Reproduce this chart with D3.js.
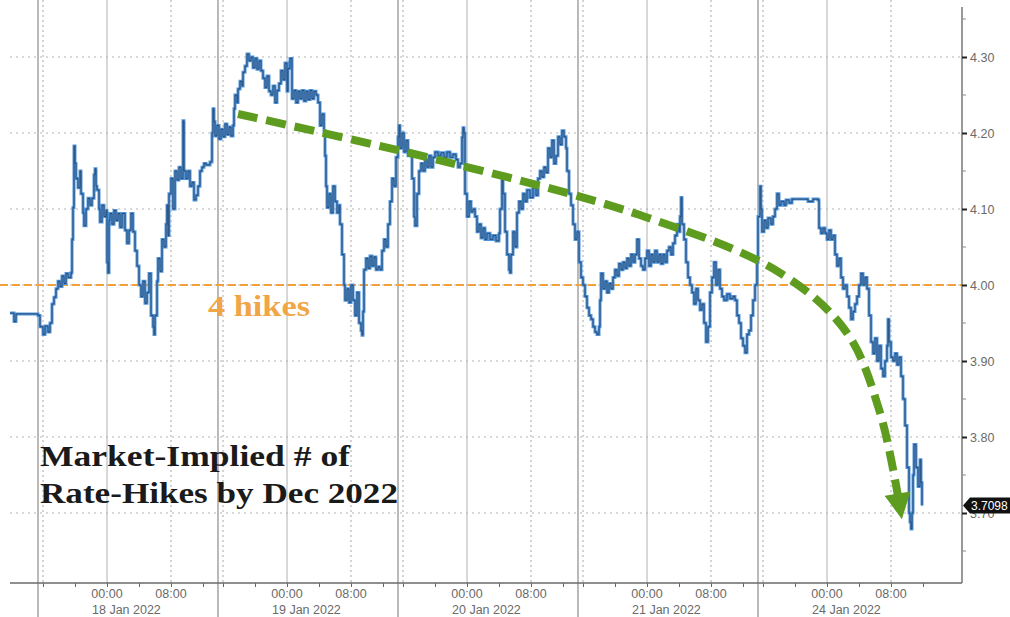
<!DOCTYPE html>
<html>
<head>
<meta charset="utf-8">
<script src="https://cdn.jsdelivr.net/npm/d3@7"></script>
<style>
  body { margin: 0; background: #fff; }
  svg { display: block; }
  .tick-lbl { font-family: "Liberation Sans", Arial, sans-serif; font-size: 12.5px; fill: #6a6a6a; }
  .title { font-family: "Liberation Serif", "Times New Roman", serif; font-weight: bold; font-size: 30px; fill: #1a1a1a; }
  .hikes { font-family: "Liberation Serif", "Times New Roman", serif; font-weight: bold; font-size: 30px; fill: #f0a646; }
</style>
</head>
<body>
<div id="container"></div>
<script>

// session layout: each day runs 22.5 trading hours, opening 8h37m before midnight
const days = ["18 Jan 2022", "19 Jan 2022", "20 Jan 2022", "21 Jan 2022", "24 Jan 2022"];
const first_open = 4.75,        // hours after the left edge of the chart
      day_len = 22.5,
      open_to_midnight = 8.625;

const y_ticks = [3.70, 3.80, 3.90, 4.00, 4.10, 4.20, 4.30];
const last_value = 3.7098;
const hikes_level = 4.00;

// [trading hours since left edge, implied number of hikes]
const series = [
 [1.25,3.963],[1.75,3.952],[2,3.962],[4.75,3.960],[5,3.945],[5.375,3.935],[5.625,3.946],[6,3.938],
 [6.25,3.950],[6.5,3.975],[6.75,3.984],[7,3.995],[7.25,4.005],[7.5,3.998],[7.75,4.012],[8,4.002],
 [8.25,4.015],[8.5,4.010],[8.875,4.016],[9,4.060],[9.125,4.102],[9.25,4.183],[9.375,4.160],[9.5,4.140],
 [9.75,4.128],[10,4.150],[10.125,4.120],[10.375,4.095],[10.5,4.078],[10.75,4.100],[11,4.114],[11.25,4.105],
 [11.5,4.114],[11.75,4.145],[11.875,4.153],[12,4.130],[12.125,4.125],[12.375,4.100],[12.5,4.083],[12.75,4.105],
 [13,4.090],[13.25,4.098],[13.375,4.030],[13.5,4.016],[13.625,4.085],[13.75,4.094],[14,4.080],[14.25,4.098],
 [14.5,4.085],[14.75,4.094],[15,4.076],[15.25,4.094],[15.625,4.072],[15.875,4.055],[16.125,4.072],[16.375,4.094],
 [16.625,4.070],[16.875,4.045],[17.125,4.025],[17.375,4.000],[17.625,3.985],[17.875,4.005],[18.125,3.976],[18.375,3.990],
 [18.625,4.015],[18.875,3.960],[19.125,3.945],[19.25,3.935],[19.375,3.960],[19.625,4.005],[19.75,4.035],[20,4.018],
 [20.25,4.060],[20.5,4.050],[20.75,4.080],[20.875,4.105],[21,4.065],[21.125,4.120],[21.375,4.140],[21.625,4.100],
 [21.875,4.150],[22.125,4.138],[22.375,4.155],[22.625,4.140],[22.875,4.216],[23,4.150],[23.25,4.140],[23.5,4.150],
 [23.75,4.130],[24,4.135],[24.25,4.112],[24.5,4.118],[24.75,4.130],[25,4.150],[25.25,4.155],[25.5,4.160],
 [25.75,4.158],[26.25,4.162],[26.5,4.200],[26.625,4.232],[26.75,4.215],[26.875,4.196],[27.125,4.210],[27.375,4.192],
 [27.625,4.205],[27.875,4.195],[28.125,4.212],[28.375,4.198],[28.625,4.208],[28.875,4.196],[29.125,4.210],[29.25,4.232],
 [29.375,4.250],[29.625,4.240],[29.75,4.258],[30,4.268],[30.25,4.262],[30.375,4.280],[30.625,4.288],[30.875,4.304],
 [31.125,4.295],[31.375,4.300],[31.625,4.286],[31.875,4.298],[32.125,4.284],[32.375,4.295],[32.625,4.282],[32.875,4.272],
 [33.125,4.260],[33.375,4.275],[33.625,4.255],[33.875,4.250],[34.125,4.262],[34.375,4.240],[34.625,4.256],[34.875,4.265],
 [35.125,4.282],[35.375,4.270],[35.625,4.292],[35.875,4.255],[36,4.285],[36.25,4.298],[36.5,4.245],[36.75,4.256],
 [37,4.240],[37.25,4.255],[37.5,4.245],[37.75,4.256],[38,4.242],[38.25,4.255],[38.5,4.244],[38.75,4.256],
 [39,4.245],[39.25,4.255],[39.5,4.250],[39.75,4.240],[40,4.210],[40.25,4.225],[40.5,4.203],[40.625,4.170],
 [40.75,4.130],[40.875,4.102],[41.125,4.120],[41.375,4.095],[41.625,4.130],[41.875,4.110],[42.125,4.095],[42.375,4.105],
 [42.5,4.080],[42.75,4.040],[43,4.000],[43.125,3.980],[43.375,3.995],[43.625,3.977],[43.875,4.000],[44.125,3.980],
 [44.375,3.960],[44.625,3.990],[44.875,3.950],[45.125,3.940],[45.25,3.934],[45.375,3.965],[45.5,4.020],[45.75,4.035],
 [46,4.022],[46.25,4.038],[46.5,4.025],[46.75,4.037],[47,4.020],[47.25,4.024],[47.5,4.020],[47.75,4.045],
 [48,4.060],[48.25,4.050],[48.5,4.080],[48.75,4.110],[49,4.140],[49.25,4.130],[49.5,4.168],[49.75,4.195],
 [49.875,4.210],[50,4.180],[50.25,4.200],[50.5,4.175],[50.75,4.190],[51,4.170],[51.25,4.175],[51.5,4.140],
 [51.75,4.090],[51.875,4.078],[52.125,4.120],[52.375,4.150],[52.625,4.160],[52.875,4.150],[53.125,4.165],[53.375,4.155],
 [53.625,4.170],[53.875,4.155],[54.125,4.168],[54.375,4.175],[54.75,4.170],[55.125,4.174],[55.5,4.168],[55.875,4.175],
 [56.25,4.168],[56.625,4.172],[57,4.165],[57.25,4.155],[57.5,4.160],[57.75,4.194],[57.875,4.207],[58,4.200],
 [58.125,4.120],[58.375,4.090],[58.625,4.110],[58.875,4.096],[59.125,4.100],[59.375,4.090],[59.625,4.070],[59.875,4.080],
 [60.125,4.062],[60.375,4.075],[60.625,4.060],[60.875,4.068],[61.25,4.060],[61.625,4.065],[62,4.058],[62.375,4.068],
 [62.5,4.100],[62.75,4.138],[62.875,4.120],[63.125,4.070],[63.375,4.040],[63.625,4.020],[63.75,4.016],[63.875,4.040],
 [64.125,4.070],[64.375,4.050],[64.625,4.095],[64.875,4.110],[65.125,4.100],[65.375,4.120],[65.625,4.110],[65.875,4.125],
 [66.25,4.115],[66.625,4.128],[67,4.118],[67.25,4.140],[67.5,4.150],[67.75,4.142],[68,4.155],[68.25,4.148],
 [68.5,4.180],[68.75,4.168],[69,4.190],[69.25,4.160],[69.5,4.170],[69.75,4.195],[70,4.185],[70.25,4.203],
 [70.5,4.195],[70.75,4.180],[70.875,4.150],[71.125,4.120],[71.375,4.105],[71.625,4.080],[71.875,4.060],[72.125,4.070],
 [72.375,4.030],[72.625,4.010],[72.875,4.000],[73.125,3.985],[73.375,3.970],[73.625,3.960],[73.875,3.955],[74.125,3.945],
 [74.375,3.938],[74.625,3.935],[74.875,3.945],[75,3.980],[75.125,4.015],[75.375,3.995],[75.625,4.005],[75.875,3.990],
 [76.125,4.002],[76.375,3.995],[76.625,4.010],[76.875,4.020],[77.125,4.012],[77.375,4.028],[77.625,4.020],[77.875,4.030],
 [78.125,4.022],[78.375,4.035],[78.625,4.025],[78.875,4.040],[79.125,4.030],[79.375,4.040],[79.625,4.060],[79.875,4.035],
 [80.125,4.025],[80.375,4.020],[80.625,4.035],[80.875,4.045],[81.125,4.025],[81.375,4.040],[81.625,4.030],[81.875,4.045],
 [82.125,4.030],[82.375,4.040],[82.625,4.028],[82.875,4.040],[83.125,4.030],[83.375,4.045],[83.625,4.050],[83.875,4.040],
 [84.125,4.055],[84.375,4.065],[84.625,4.080],[84.875,4.070],[85,4.090],[85.125,4.115],[85.25,4.080],[85.5,4.060],
 [85.75,4.030],[86,4.010],[86.25,4.000],[86.5,3.990],[86.75,3.975],[87,3.995],[87.25,3.980],[87.5,3.967],
 [87.75,3.975],[88,3.950],[88.25,3.925],[88.5,3.945],[88.75,3.990],[89,4.010],[89.25,4.030],[89.5,4.000],
 [89.75,4.020],[90,3.995],[90.25,3.985],[90.5,3.980],[90.875,3.988],[91.25,3.982],[91.625,3.985],[91.875,3.980],
 [92.125,3.960],[92.375,3.950],[92.625,3.930],[92.875,3.920],[93.125,3.911],[93.375,3.935],[93.625,3.940],[93.875,3.960],
 [94.125,3.980],[94.375,4.000],[94.625,4.030],[94.75,4.090],[95,4.130],[95.125,4.100],[95.25,4.070],[95.5,4.085],
 [95.75,4.075],[96,4.088],[96.375,4.080],[96.625,4.090],[96.875,4.100],[97.125,4.120],[97.375,4.105],[97.625,4.110],
 [98,4.105],[98.25,4.112],[98.625,4.108],[99,4.113],[100,4.113],[101,4.110],[101.625,4.113],[102.25,4.112],
 [102.375,4.075],[102.625,4.068],[102.875,4.075],[103.125,4.068],[103.375,4.060],[103.625,4.072],[103.875,4.060],[104.125,4.065],
 [104.375,4.040],[104.625,4.025],[104.875,4.035],[105.125,4.010],[105.375,3.995],[105.625,4.000],[105.875,3.985],[106.125,3.970],
 [106.375,3.955],[106.625,3.965],[106.875,3.975],[107.125,3.985],[107.375,4.000],[107.625,4.015],[107.875,4.000],[108.125,4.010],
 [108.375,3.995],[108.625,3.960],[108.875,3.925],[109.125,3.910],[109.375,3.930],[109.625,3.900],[109.875,3.920],[110.125,3.890],
 [110.375,3.880],[110.625,3.900],[110.875,3.920],[111,3.955],[111.125,3.925],[111.375,3.905],[111.625,3.900],[111.875,3.910],
 [112.125,3.895],[112.375,3.905],[112.625,3.880],[112.875,3.850],[113.125,3.815],[113.375,3.760],[113.625,3.700],[113.75,3.688],
 [113.875,3.679],[114,3.700],[114.125,3.750],[114.25,3.790],[114.5,3.760],[114.75,3.735],[115,3.770],[115.125,3.740],
 [115.25,3.7098]
];

// hand-drawn trend arrow, in the same [hours, value] units
const trend = [[29.75,4.225],[55,4.164],[80,4.092],[97.5,4.016],[105.875,3.937],[110,3.832],[112.25,3.722]];

const W = 1010, H = 617;
var plot_left = 10, plot_right = 962, plot_top = 7, axis_y = 583;

var svg = d3.select("#container").append("svg")
    .attr("width", W)
    .attr("height", H);

var x = d3.scaleLinear()
    .domain([0, 120.25])
    .range([0, plot_right]);

var y = d3.scaleLinear()
    .domain([3.70, 4.30])
    .range([513, 57]);

// ---- vertical grid: every 4h tick inside each session
var ticks = [], grid_dot = [], grid_solid = [], labels = [], seps = [];
days.forEach(function(dname, i){
    var open = first_open + i * day_len;
    var mid = open + open_to_midnight;
    seps.push(open);
    [-8, -4, 0, 4, 8, 12].forEach(function(k){
	var t = mid + k;
	if (t < open || t > open + day_len) return;
	ticks.push(t);
	if (k == 0) grid_solid.push(t);
	if (k == -8 || k == 8) grid_dot.push(t);
    });
    labels.push({t: mid, txt: "00:00", day: dname});
    labels.push({t: mid + 8, txt: "08:00"});
});

var grid = svg.append("g");

grid.selectAll("line.hgrid")
    .data(y_ticks)
    .enter().append("line")
    .attr("x1", plot_left).attr("x2", plot_right)
    .attr("y1", function(d){ return y(d); })
    .attr("y2", function(d){ return y(d); })
    .style("stroke", "#b4b4b4")
    .style("stroke-dasharray", "2,4");

grid.selectAll("line.vdot")
    .data(grid_dot)
    .enter().append("line")
    .attr("x1", function(d){ return x(d); })
    .attr("x2", function(d){ return x(d); })
    .attr("y1", 0).attr("y2", axis_y)
    .style("stroke", "#a8a8a8")
    .style("stroke-dasharray", "2,3");

grid.selectAll("line.vsolid")
    .data(grid_solid)
    .enter().append("line")
    .attr("x1", function(d){ return x(d); })
    .attr("x2", function(d){ return x(d); })
    .attr("y1", 0).attr("y2", axis_y)
    .style("stroke", "#b0b0b0");

grid.selectAll("line.sep")
    .data(seps)
    .enter().append("line")
    .attr("x1", function(d){ return x(d); })
    .attr("x2", function(d){ return x(d); })
    .attr("y1", 0).attr("y2", H)
    .style("stroke", "#8c8c8c")
    .style("stroke-width", 1.2);

// ---- 4 hikes line
svg.append("line")
    .attr("x1", 0).attr("x2", plot_right)
    .attr("y1", y(hikes_level)).attr("y2", y(hikes_level))
    .style("stroke", "#f3a03a")
    .style("stroke-width", 2.2)
    .style("stroke-dasharray", "8,4");

svg.append("text")
    .classed("hikes", true)
    .attr("x", 208)
    .attr("y", y(hikes_level) + 31)
    .attr("textLength", 102)
    .attr("lengthAdjust", "spacingAndGlyphs")
    .text("4 hikes");

// ---- price series
var line = d3.line()
    .x(function(d){ return x(d[0]); })
    .y(function(d){ return y(d[1]); })
    .curve(d3.curveStepAfter);

svg.append("path")
    .datum(series)
    .attr("d", line)
    .style("fill", "none")
    .style("stroke", "#4f94da")
    .style("stroke-width", 3);

svg.append("path")
    .datum(series)
    .attr("d", line)
    .style("fill", "none")
    .style("stroke", "#1c2f4d")
    .style("stroke-width", 0.9)
    .style("opacity", 0.8);

// ---- trend arrow
svg.append("defs").append("marker")
    .attr("id", "head")
    .attr("markerUnits", "userSpaceOnUse")
    .attr("viewBox", "0 0 10 10")
    .attr("refX", 1).attr("refY", 5)
    .attr("markerWidth", 30).attr("markerHeight", 26)
    .attr("orient", "auto")
    .append("path")
    .attr("d", "M0,0 L10,5 L0,10 z")
    .style("fill", "#5e9c1f");

svg.append("path")
    .datum(trend)
    .attr("d", d3.line()
	  .x(function(d){ return x(d[0]); })
	  .y(function(d){ return y(d[1]); })
	  .curve(d3.curveCatmullRom.alpha(0.5)))
    .style("fill", "none")
    .style("stroke", "#5e9c1f")
    .style("stroke-width", 8)
    .style("stroke-dasharray", "20,9")
    .attr("marker-end", "url(#head)");

// ---- title
var title = svg.append("g").classed("title", true);
title.append("text").attr("x", 40).attr("y", 466)
    .attr("textLength", 310).attr("lengthAdjust", "spacingAndGlyphs")
    .text("Market-Implied # of");
title.append("text").attr("x", 40).attr("y", 503)
    .attr("textLength", 358).attr("lengthAdjust", "spacingAndGlyphs")
    .text("Rate-Hikes by Dec 2022");

// ---- right axis
svg.append("line")
    .attr("x1", plot_right).attr("x2", plot_right)
    .attr("y1", plot_top).attr("y2", axis_y)
    .style("stroke", "#777")
    .style("stroke-width", 1.5);

var minor_y = d3.range(3.65, 4.40, 0.1).map(function(d){ return Math.round(d * 100) / 100; });

svg.selectAll("line.yminor")
    .data(minor_y)
    .enter().append("line")
    .attr("x1", plot_right).attr("x2", plot_right + 4)
    .attr("y1", function(d){ return y(d); })
    .attr("y2", function(d){ return y(d); })
    .style("stroke", "#888");

var yax = svg.append("g")
    .attr("transform", "translate(" + plot_right + ",0)")
    .call(d3.axisRight(y).tickValues(y_ticks).tickFormat(d3.format(".2f")).tickSize(5).tickPadding(3));
yax.select(".domain").remove();
yax.selectAll("line").style("stroke", "#222").style("stroke-width", 2);
yax.selectAll("text").attr("class", "tick-lbl").style("font-size", null).style("font-family", null);

// ---- bottom axis
var xax = svg.append("g")
    .attr("transform", "translate(0," + axis_y + ")")
    .call(d3.axisBottom(x).tickValues(ticks).tickFormat("").tickSize(4));
xax.select(".domain").remove();
xax.selectAll("line").style("stroke", "#666");

svg.append("line")
    .attr("x1", plot_left).attr("x2", plot_right)
    .attr("y1", axis_y).attr("y2", axis_y)
    .style("stroke", "#6a6a6a")
    .style("stroke-width", 1.5);

svg.selectAll("text.tlbl")
    .data(labels)
    .enter().append("text")
    .attr("class", "tick-lbl")
    .attr("x", function(d){ return x(d.t); })
    .attr("y", 598)
    .attr("text-anchor", "middle")
    .text(function(d){ return d.txt; });

svg.selectAll("text.dlbl")
    .data(labels.filter(function(d){ return d.day; }))
    .enter().append("text")
    .attr("class", "tick-lbl")
    .attr("x", function(d){ return x(d.t) - 15; })
    .attr("y", 614)
    .text(function(d){ return d.day; });

// ---- last value tag
var ly = y(last_value);
svg.append("path")
    .attr("d", "M" + (plot_right + 1) + "," + ly +
	  " L" + (plot_right + 8) + "," + (ly - 8) +
	  " L" + W + "," + (ly - 8) +
	  " L" + W + "," + (ly + 8) +
	  " L" + (plot_right + 8) + "," + (ly + 8) + " Z")
    .style("fill", "#111");

svg.append("text")
    .attr("x", plot_right + 9)
    .attr("y", ly + 4.5)
    .style("font-family", "Liberation Sans, Arial, sans-serif")
    .style("font-size", "12px")
    .style("fill", "#fff")
    .text(d3.format(".4f")(last_value));

</script>
</body>
</html>
